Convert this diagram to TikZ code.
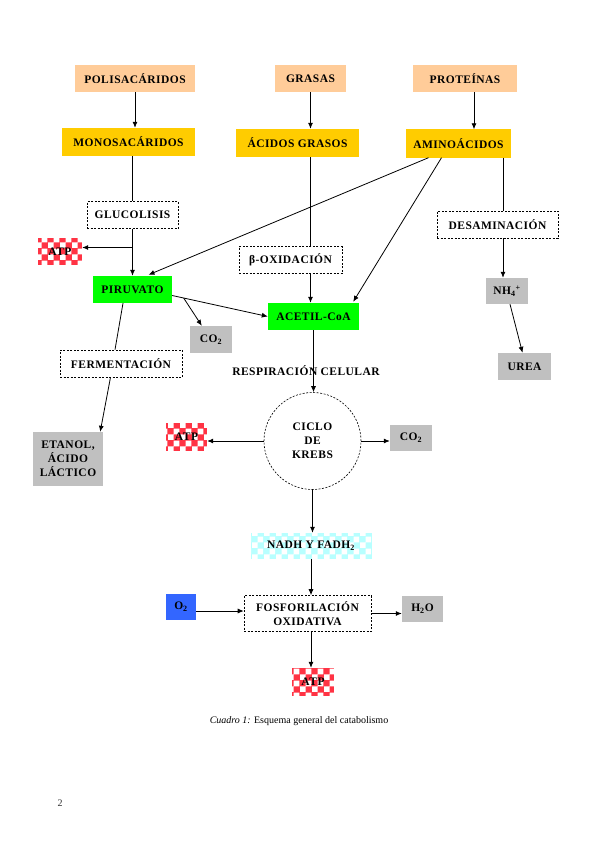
\documentclass[tikz,border=0pt]{standalone}
\usepackage{fontspec}
\setmainfont{Liberation Serif}
\usetikzlibrary{arrows.meta,patterns,calc}
\definecolor{peachc}{HTML}{FFCC99}
\definecolor{goldc}{HTML}{FFCC00}
\definecolor{greenc}{HTML}{00FF00}
\definecolor{grayc}{HTML}{C0C0C0}
\definecolor{bluec}{HTML}{3366FF}
\definecolor{atpred}{HTML}{FF3344}
\definecolor{cyanc}{HTML}{B8FFFF}
\pgfdeclarepatternformonly{chk}{\pgfpointorigin}{\pgfqpoint{12pt}{12pt}}{\pgfqpoint{12pt}{12pt}}{%
 \pgfpathrectangle{\pgfqpoint{0pt}{0pt}}{\pgfqpoint{6pt}{6pt}}%
 \pgfpathrectangle{\pgfqpoint{6pt}{6pt}}{\pgfqpoint{6pt}{6pt}}%
 \pgfusepath{fill}}
\begin{document}
\begin{tikzpicture}[x=1pt,y=-1pt,
 every node/.style={font=\fontsize{11.5}{14}\selectfont\bfseries\addfontfeature{LetterSpace=4}, inner sep=0pt, align=center},
 bx/.style={minimum height=27pt},
 peach/.style={bx, fill=peachc},
 gold/.style={bx, fill=goldc},
 grn/.style={bx, fill=greenc},
 gry/.style={bx, fill=grayc},
 blu/.style={bx, fill=bluec},
 atp/.style={bx, preaction={fill=atpred}, pattern=chk, pattern color=white},
 nadhs/.style={bx, preaction={fill=cyanc}, pattern=chk, pattern color=white},
 dbox/.style={bx, draw, dash pattern=on 2pt off 1.5pt, line width=0.6pt},
 ln/.style={line width=0.8pt},
 arr/.style={ln, -{Latex[length=6pt,width=5pt]}}]
\useasboundingbox (0,0) rectangle (599,848);
\fill[white] (0,0) rectangle (599,848);

\node[peach, minimum width=120pt] (poli) at (135,78.5) {POLISACÁRIDOS};
\node[peach, minimum width=71pt] (gra) at (310.5,78.5) {GRASAS};
\node[peach, minimum width=104pt] (prot) at (465,78.5) {PROTEÍNAS};
\node[gold, minimum width=133pt, minimum height=28pt] (mono) at (128.5,142) {MONOSACÁRIDOS};
\node[gold, minimum width=123pt, minimum height=28pt] (acg) at (297.5,143) {ÁCIDOS GRASOS};
\node[gold, minimum width=105pt, minimum height=28pt] (ami) at (458.5,143.5) {AMINOÁCIDOS};
\node[dbox, minimum width=91pt] (glu) at (132.5,215) {GLUCOLISIS};
\node[atp, minimum width=44pt] (atp1) at (60,251.5) {ATP};
\node[grn, minimum width=79pt] (pir) at (132.5,289.5) {PIRUVATO};
\node[dbox, minimum width=103pt] (beta) at (290.5,260) {β-OXIDACIÓN};
\node[dbox, minimum width=121pt] (desam) at (497.5,224.5) {DESAMINACIÓN};
\node[gry, minimum width=42pt, minimum height=26pt] (nh4) at (507,291) {NH\textsubscript{4}\textsuperscript{+}};
\node[gry, minimum width=53pt] (urea) at (524.5,366.5) {UREA};
\node[gry, minimum width=42pt] (co2a) at (211,339.5) {CO\textsubscript{2}};
\node[grn, minimum width=91pt] (acetil) at (313.5,316.5) {ACETIL-CoA};
\node[dbox, minimum width=122pt] (ferm) at (121,363.5) {FERMENTACIÓN};
\node (resp) at (306,371) {RESPIRACIÓN CELULAR};
\node[gry, minimum width=70pt, minimum height=54pt] (etanol) at (68,459) {ETANOL,\\ÁCIDO\\LÁCTICO};
\node[atp, minimum width=41pt, minimum height=28pt] (atp2) at (186.5,437) {ATP};
\node[circle, draw, dash pattern=on 2pt off 1.5pt, line width=0.6pt, minimum size=97pt] (krebs) at (312.5,441) {CICLO\\DE\\KREBS};
\node[gry, minimum width=42pt, minimum height=26pt] (co2b) at (411,438) {CO\textsubscript{2}};
\node[nadhs, minimum width=121pt, minimum height=26pt] (nadh) at (311,546) {NADH Y FADH\textsubscript{2}};
\node[blu, minimum width=30pt, minimum height=26pt] (o2) at (181,607) {O\textsubscript{2}};
\node[dbox, minimum width=127pt, minimum height=36pt] (fos) at (307.5,613.5) {FOSFORILACIÓN\\OXIDATIVA};
\node[gry, minimum width=41pt, minimum height=26pt] (h2o) at (422.5,608.5) {H\textsubscript{2}O};
\node[atp, minimum width=42pt, minimum height=28pt] (atp3) at (313,682) {ATP};

\node[font=\fontsize{10}{12}\selectfont] (cap) at (299,721) {\textit{Cuadro 1:} Esquema general del catabolismo};
\node[font=\fontsize{10}{12}\selectfont, text=black!80] (pg) at (60,803) {2};

% connectors
\draw[arr] (poli.south) -- (poli.south |- mono.north);
\draw[arr] (gra.south) -- (gra.south |- acg.north);
\coordinate (pa) at ([xshift=9pt]prot.south);
\draw[arr] (pa) -- (pa |- ami.north);

\draw[ln] (glu.north |- mono.south) -- (glu.north);
\draw[arr] (glu.south) -- (glu.south |- pir.north);
\coordinate (ab) at ([yshift=4pt]atp1.east);
\draw[arr] (glu.south |- ab) -- (ab);

\draw[ln] (acg.south -| gra.south) -- (beta.north -| gra.south);
\draw[arr] (beta.south -| gra.south) -- (acetil.north -| gra.south);

\draw[arr] ([xshift=-30pt]ami.south) -- ([xshift=16pt,yshift=1pt]pir.north);
\draw[arr] ([xshift=-17pt]ami.south) -- ([xshift=-6pt,yshift=1pt]acetil.north east);

\coordinate (dx) at (503,0);
\draw[ln] (ami.south -| dx) -- (desam.north -| dx);
\draw[arr] (desam.south -| dx) -- (nh4.north -| dx);
\draw[arr] ([xshift=3pt]nh4.south) -- ([xshift=-2pt]urea.north);

\coordinate (pe) at ([yshift=-6pt]pir.east);
\draw[arr] (pe) -- (acetil.west);
\coordinate (pb) at ($(pe)!0.12!(acetil.west)$);
\draw[arr] (pb) -- ([xshift=12pt]co2a.north west);

\draw[ln] ([xshift=-9.5pt]pir.south) -- ([xshift=-6pt]ferm.north);
\draw[arr] ([xshift=-10.5pt]ferm.south) -- ([xshift=-3pt]etanol.north east);

\draw[arr] (acetil.south) -- (acetil.south |- krebs.north);
\draw[arr] (krebs.west) -- (krebs.west -| atp2.east);
\draw[arr] (krebs.east) -- (krebs.east -| co2b.west);
\draw[arr] (krebs.south) -- (krebs.south |- nadh.north);
\draw[arr] (nadh.south) -- (nadh.south |- fos.north);
\coordinate (oo) at ([yshift=-4pt]o2.east);
\draw[arr] (oo) -- (oo -| fos.west);
\draw[arr] (fos.east) -- (fos.east -| h2o.west);
\draw[arr] (fos.south -| nadh.south) -- (nadh.south |- atp3.north);
\end{tikzpicture}
\end{document}
